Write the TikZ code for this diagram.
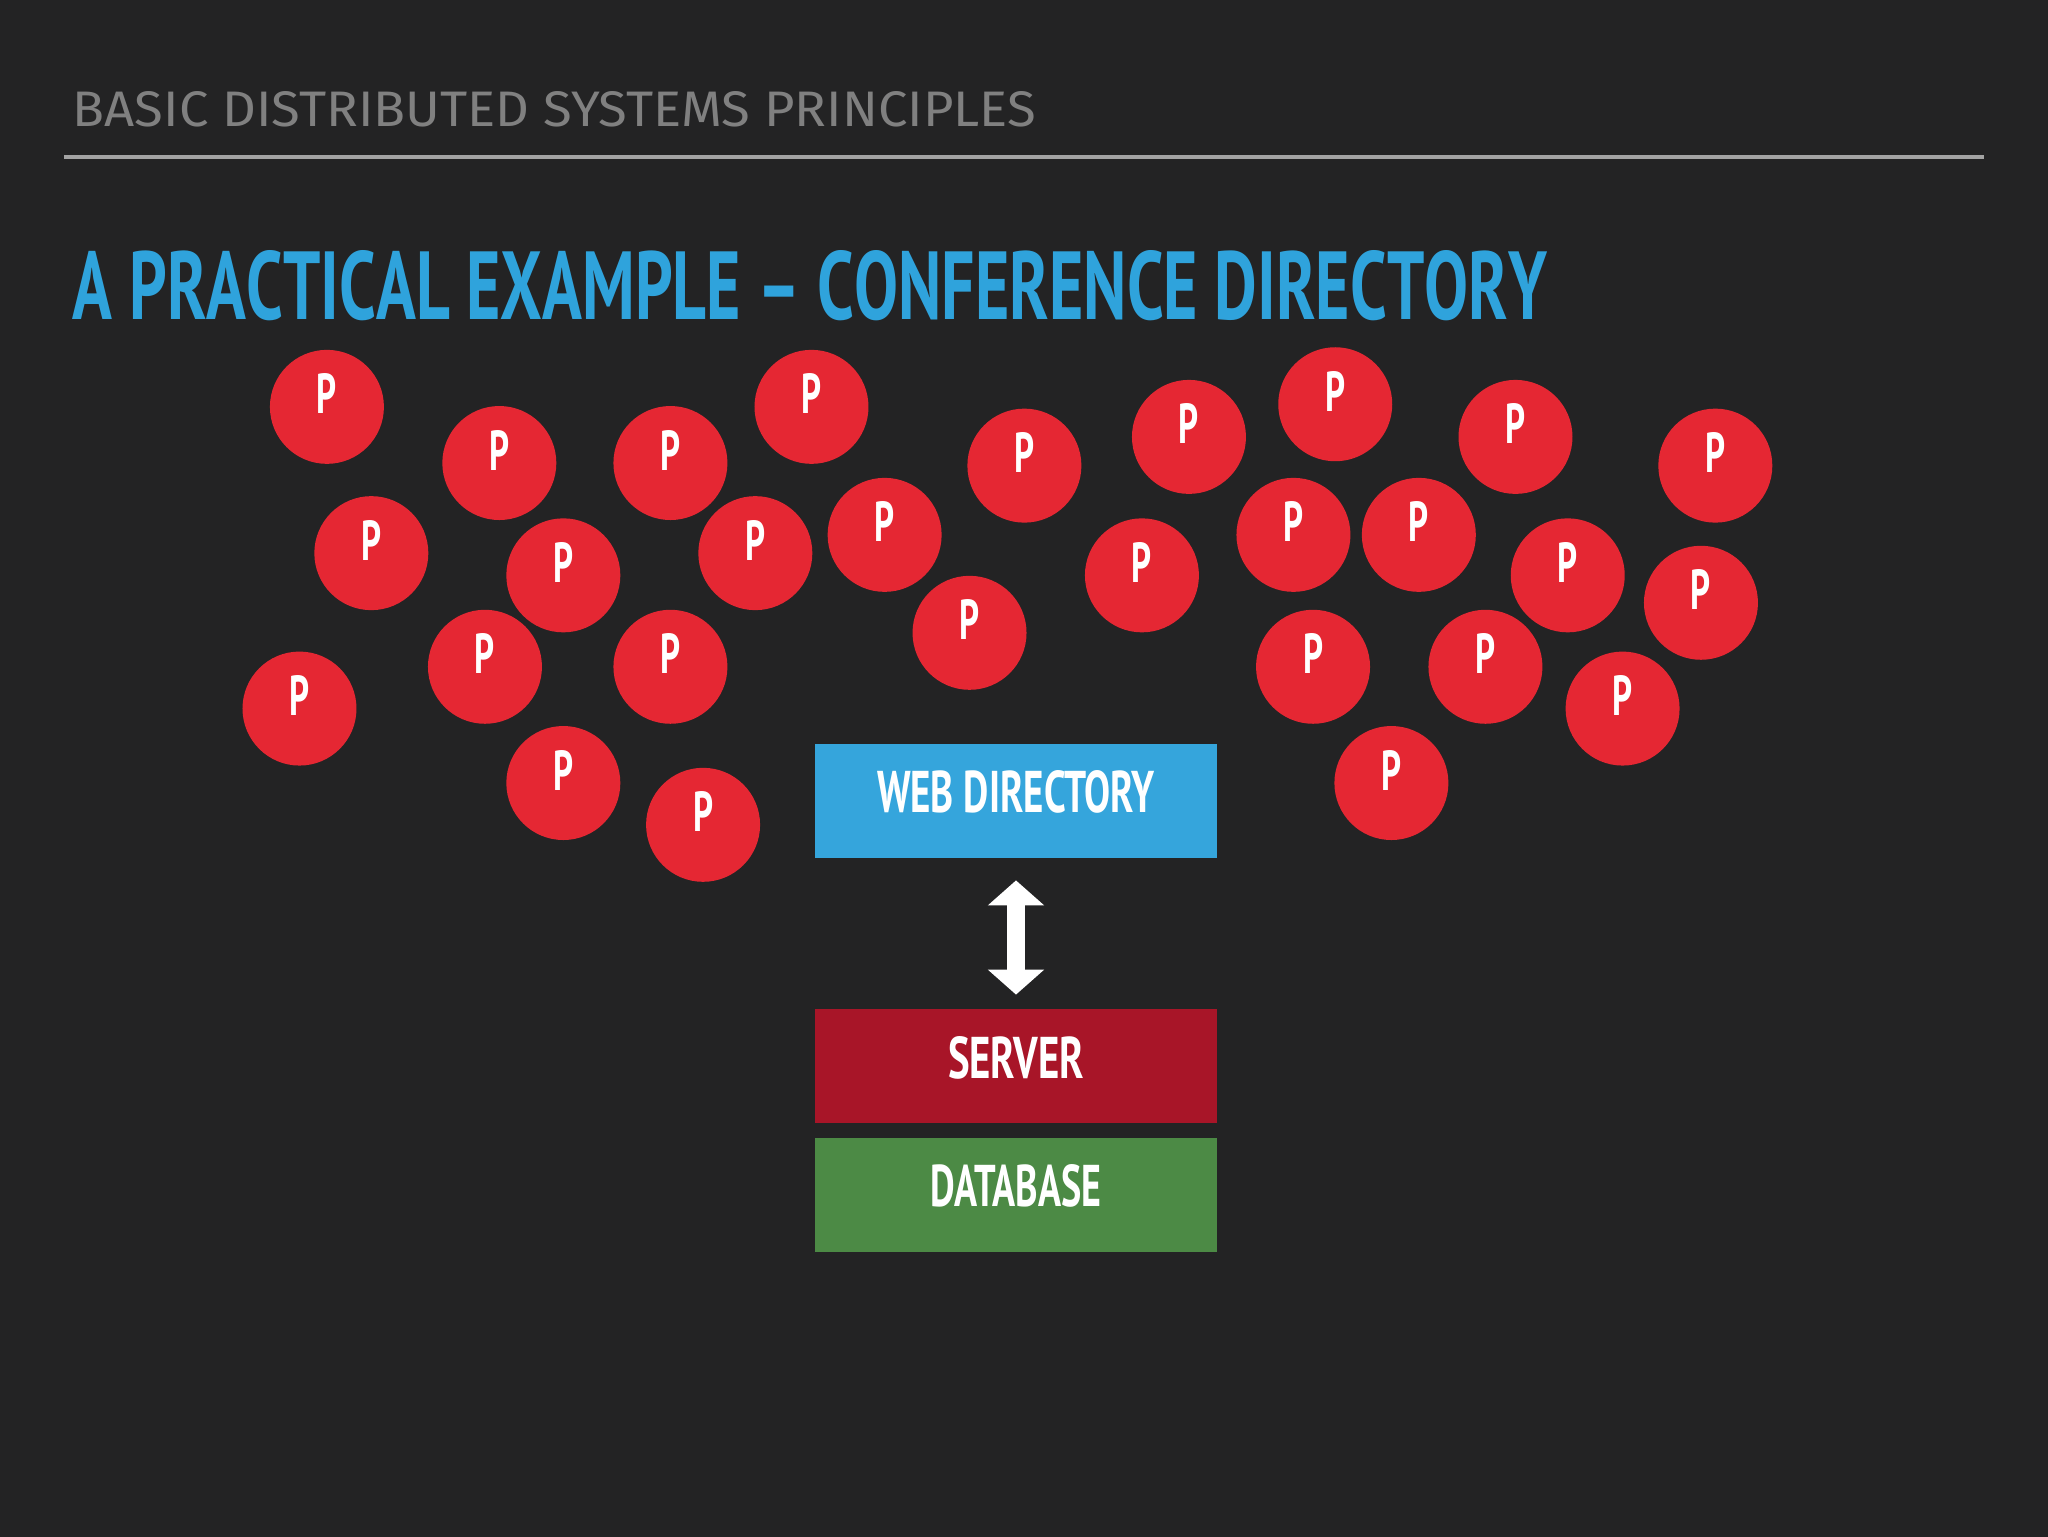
\documentclass[tikz,border=0pt]{standalone}
\usepackage{fontspec}
\usepackage{graphicx}
\setmainfont{PT Sans}
\newfontfamily\hdrfont{Fira Sans}
\newfontfamily\ttlfont[Kerning=Off,BoldFont={PT Sans Bold}]{PT Sans}
\usetikzlibrary{arrows.meta}
\definecolor{bgc}{HTML}{232324}
\definecolor{blu}{HTML}{35A5DC}
\definecolor{ttl}{HTML}{2FA3DC}
\definecolor{redc}{HTML}{E52733}
\definecolor{srv}{HTML}{A81528}
\definecolor{dbc}{HTML}{4C8A45}
\definecolor{hdr}{HTML}{808080}
\definecolor{rulec}{HTML}{A3A3A3}
\newcommand{\fitbox}[3]{\resizebox{#1}{#2}{#3}}
\newcommand{\lab}[4]{\raisebox{#1}[0pt][0pt]{\resizebox{#2}{#3}{\bfseries #4}}}
\tikzset{
  x=0.5pt,y=-0.5pt,
  pnode/.style={circle,fill=redc,draw=none,minimum size=57pt,inner sep=0pt,text=white},
  tierbox/.style={rectangle,draw=none,minimum width=201pt,minimum height=57pt,inner sep=0pt,text=white},
  txt/.style={inner sep=0pt,anchor=center},
  bigarrow/.style={draw=white,line width=9pt,{Triangle[length=12.5pt,width=27.5pt]}-{Triangle[length=12.5pt,width=27.5pt]},shorten <=11pt,shorten >=7pt}
}
\begin{document}
\begin{tikzpicture}
\useasboundingbox (0,0) rectangle (2048,1536);
\fill[bgc] (-8,-8) rectangle (2056,1544);
\node[txt,text=hdr] (header) at (554.5,109) {\fitbox{481.5pt}{17.5pt}{\hdrfont BASIC DISTRIBUTED SYSTEMS PRINCIPLES}};
\coordinate (ruleL) at (64,156.5);
\coordinate (ruleR) at (1984,156.5);
\draw[rulec,line width=2pt] (ruleL) -- (ruleR);
\node[txt,text=ttl] (title) at (810,286) {\fitbox{737pt}{34.5pt}{\ttlfont\bfseries A PRACTICAL EXAMPLE – CONFERENCE DIRECTORY}};
\foreach \x/\y [count=\i] in {250/311,382/354,513/354,621/311,784/356,910/334,1022/309,1160/334,1313/356,284/423,431/440,578/423,677/409,742/484,874/440,990/409,1086/409,1200/440,1302/461,371/510,513/510,229/542,1005/510,1137/510,1242/542,431/599,538/631,1065/599}
  \node[pnode] (p\i) at ({(\x+0.3)*1.3061},{(\y+0.5)*1.3061}) {\lab{-3.5pt}{10pt}{20pt}{P}};
\node[tierbox,fill=blu] (web) at (1016,801) {\lab{-5.5pt}{139pt}{21pt}{WEB DIRECTORY}};
\node[tierbox,fill=srv] (server) at (1016,1066) {\lab{-6pt}{68pt}{21pt}{SERVER}};
\node[tierbox,fill=dbc] (db) at (1016,1195) {\lab{-5.5pt}{85.5pt}{21pt}{DATABASE}};
\draw[bigarrow] (web.south) -- (server.north);
\end{tikzpicture}
\end{document}
